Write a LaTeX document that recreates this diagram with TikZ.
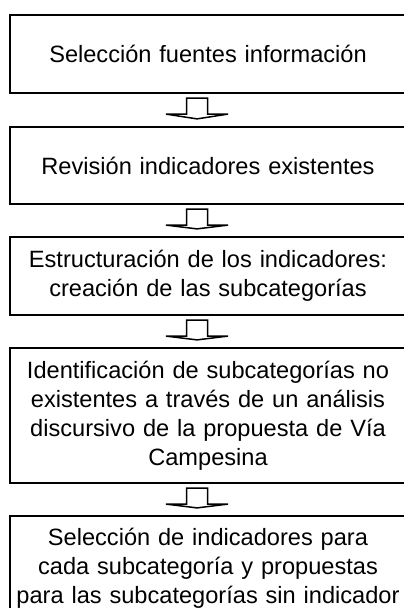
\documentclass[tikz,border=0pt]{standalone}
\usepackage{fontspec}
\setmainfont{Liberation Sans}
\usetikzlibrary{calc}
\tikzset{
  stepbox/.style={draw=black, line width=2.2pt, fill=white, rectangle,
    minimum width=396pt, text width=384pt, inner xsep=6pt, inner ysep=0pt,
    align=center, font=\fontsize{23.6}{29}\selectfont},
  barrow/.style={draw=black, line width=1.5pt, fill=white, line join=miter}
}
\newcommand\blockarrow[2]{%
  \draw[barrow] ($(#1.south -| ax)+(-10.5,-4)$) -- ++(0,-16) -- ++(-20.5,0)
    -- ($(#2.north -| ax)+(0,7)$) -- ($(#1.south -| ax)+(31,-20)$) -- ++(-20.5,0)
    -- ++(0,16) -- cycle;}
\begin{document}
\begin{tikzpicture}[x=1pt,y=1pt]
\useasboundingbox (0,0) rectangle (404,608);
\fill[white] (0,0) rectangle (404,608);
\coordinate (ax) at (197,0);
\node[stepbox, minimum height=78pt] (b1) at (208,554) {Selección fuentes información};
\node[stepbox, minimum height=77pt] (b2) at (208,442.5) {Revisión indicadores existentes};
\node[stepbox, minimum height=78pt] (b3) at (208,332) {Estructuración de los indicadores:\\ creación de las subcategorías};
\node[stepbox, minimum height=135pt] (b4) at (208,192.5) {Identificación de subcategorías no\\ existentes a través de un análisis\\ discursivo de la propuesta de Vía\\ Campesina};
\node[stepbox, minimum height=105pt] (b5) at (208,39.5) {Selección de indicadores para\\ cada subcategoría y propuestas\\ para las subcategorías sin indicador};
\blockarrow{b1}{b2}
\blockarrow{b2}{b3}
\blockarrow{b3}{b4}
\blockarrow{b4}{b5}
\end{tikzpicture}
\end{document}
